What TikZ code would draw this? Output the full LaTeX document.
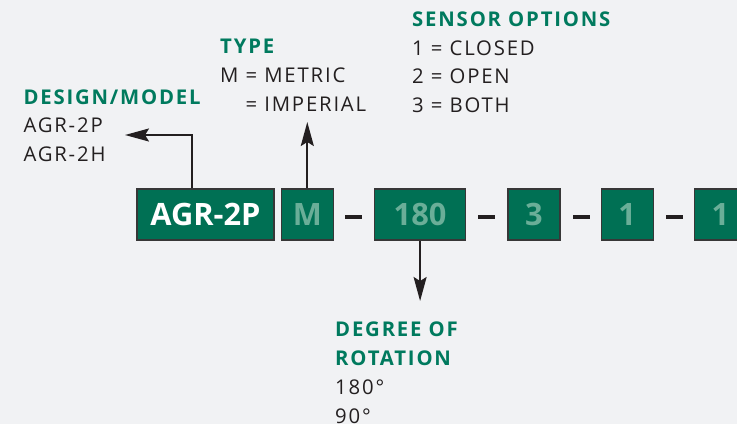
\documentclass[tikz,border=0pt]{standalone}
\usepackage{fontspec}
\setmainfont{Open Sans}
\newfontfamily\notefont{Open Sans}[LetterSpace=9]
\usetikzlibrary{positioning, arrows.meta}

\definecolor{pagebg}{RGB}{241,242,244}
\definecolor{codegreen}{RGB}{0,112,84}
\definecolor{headgreen}{RGB}{0,122,94}
\definecolor{codetext}{RGB}{106,174,152}
\definecolor{ink}{RGB}{35,31,32}
\definecolor{edge}{RGB}{55,55,55}

\newcommand{\headline}[1]{{\bfseries\color{headgreen}#1}}

\begin{document}
\begin{tikzpicture}[x=1pt, y=-1pt,
	codebox/.style={
		draw=edge,
		line width=1.3pt,
		fill=codegreen,
		minimum height=51pt,
		inner sep=0pt,
		text=codetext,
		font=\bfseries\fontsize{30.8}{30.8}\selectfont
	},
	dashbar/.style={fill=ink, minimum width=17pt, minimum height=4pt, inner sep=0pt, yshift=-2pt},
	note/.style={
		align=left,
		anchor=base west,
		inner sep=0pt,
		text=ink,
		font=\notefont\fontsize{20.3}{28.8}\selectfont
	},
	arrow/.style={-{Stealth[length=24pt, width=13pt, inset=4pt]}, line width=2pt, draw=ink}
	]
	
	% background and page size
	\fill[pagebg] (0,0) rectangle (737,424);
	\useasboundingbox (0,0) rectangle (737,424);
	
	% ======================
	% Code boxes
	% ======================
	\node (agr) [codebox, minimum width=137pt, text=white] at (205.5,214.5) {AGR-2P};
	\node (metric) [codebox, minimum width=52pt, right=6pt of agr] {M};
	\node (deg) [codebox, minimum width=91pt, right=40pt of metric] {180};
	\node (sensor) [codebox, minimum width=52pt, right=41pt of deg] {3};
	\node (optA) [codebox, minimum width=52pt, right=40pt of sensor] {1};
	\node (optB) [codebox, minimum width=52pt, right=40pt of optA] {1};
	
	% dashes between the boxes
	\node (dash1) [dashbar, right=11pt of metric] {};
	\node (dash2) [dashbar, right=12pt of deg] {};
	\node (dash3) [dashbar, right=12pt of sensor] {};
	\node (dash4) [dashbar, right=12pt of optA] {};
	
	% ======================
	% Explanations (placed at the baseline of their last line)
	% ======================
	\node (design) [note] at (23.3,161.7) {\headline{DESIGN/MODEL}\\AGR-2P\\AGR-2H};
	\node (type) [note] at (220,111) {\headline{TYPE}\\M = METRIC\\\phantom{M} = IMPERIAL};
	\node (options) [note] at (412,112.7) {\headline{SENSOR OPTIONS}\\1 = CLOSED\\2 = OPEN\\3 = BOTH};
	\node (rotation) [note] at (335,423.3) {\headline{DEGREE OF}\\\headline{ROTATION}\\180°\\90°};
	
	% arrow ends
	\coordinate (designtip) at (125,135);
	\coordinate (typetip) at (306,122);
	\coordinate (degtip) at (418,301);
	
	\draw[arrow] ([xshift=-13.5pt]agr.north) |- (designtip);
	\draw[arrow] (metric.north) -- (metric.north |- typetip);
	\draw[arrow] (deg.south) -- (deg.south |- degtip);
	
\end{tikzpicture}
\end{document}
